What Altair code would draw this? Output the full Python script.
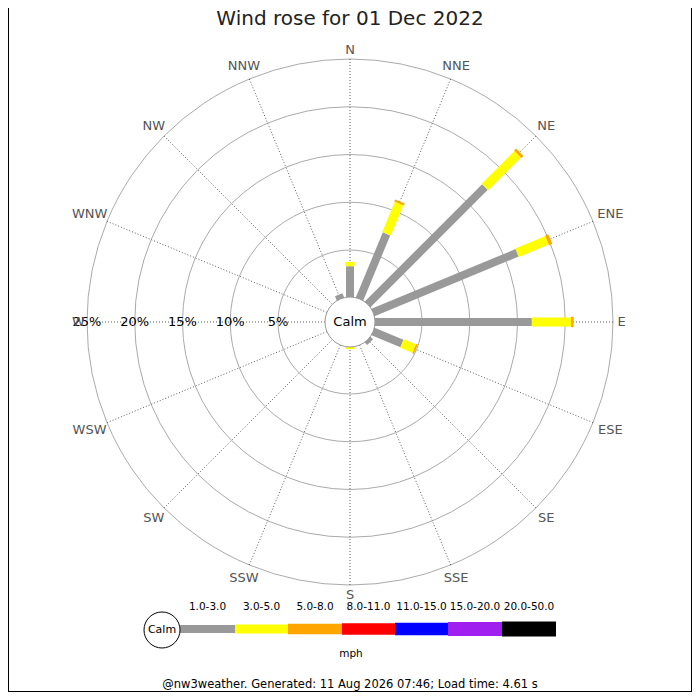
import pandas as pd
import altair as alt

# wind rose data: % of the day per direction and speed class
directions = ["N", "NNE", "NE", "ENE", "E", "ESE", "SE", "SSE",
              "S", "SSW", "SW", "WSW", "W", "WNW", "NW", "NNW"]
speed_bins = ["1.0-3.0", "3.0-5.0", "5.0-8.0", "8.0-11.0",
              "11.0-15.0", "15.0-20.0", "20.0-50.0"]
pct_1_3 = [3.3, 7.45, 17.45, 16.4, 16.5, 3.35, 0.45, 0, 0, 0, 0, 0, 0, 0, 0, 0.55]
pct_3_5 = [0.45, 3.45, 4.85, 3.4, 4.1, 1.4, 0, 0, 0.3, 0, 0, 0, 0, 0, 0, 0]
pct_5_8 = [0, 0.22, 0.3, 0.35, 0.27, 0.16, 0, 0, 0, 0, 0, 0, 0, 0, 0, 0]
pct_8_11 = [0] * 16
pct_11_15 = [0] * 16
pct_15_20 = [0] * 16
pct_20_50 = [0] * 16
ring_pcts = [5, 10, 15, 20, 25]
ring_labels = ["5%", "10%", "15%", "20%", "25%"]

title_text = "Wind rose for 01 Dec 2022"
footer_text = "@nw3weather. Generated: 11 Aug 2026 07:46; Load time: 4.61 s"
unit_text = "mph"

# styling / layout (page pixels)
bin_colors = ["#999999", "#ffff00", "#ffa500", "#ff0000", "#0000ff", "#a020f0", "#000000"]
bin_widths = [8, 15, 20, 24, 26, 28, 28]
legend_edges = [180, 235, 288, 342, 395, 448, 502, 556]
CX, CY = 350, 322
R0, K = 24.25, 9.55   # radius at 0% and px per 1%
FONT = "DejaVu Sans"

xs = alt.Scale(domain=[8, 692], nice=False, zero=False)
ys = alt.Scale(domain=[8, 692], nice=False, zero=False, reverse=True)
X = alt.X("x:Q", scale=xs, axis=None)
Y = alt.Y("y:Q", scale=ys, axis=None)


def rad(field):
    return f"{R0} + {K} * datum.{field}"


def px(r, ang):
    return f"{CX} + ({r}) * sin(datum.{ang} * PI / 180)"


def py(r, ang):
    return f"{CY} - ({r}) * cos(datum.{ang} * PI / 180)"


def label(text, x, y, size, color="#000000", baseline="middle"):
    df = pd.DataFrame({"x": [x], "y": [y], "t": [text]})
    return alt.Chart(df).mark_text(
        font=FONT, fontSize=size, color=color, align="center", baseline=baseline
    ).encode(x=X, y=Y, text="t:N")


# bars
all_bins = [pct_1_3, pct_3_5, pct_5_8, pct_8_11, pct_11_15, pct_15_20, pct_20_50]
rows = []
for i, d in enumerate(directions):
    start = 0.0
    for b, series in enumerate(all_bins):
        v = series[i]
        if v > 0:
            rows.append({"dir": d, "ang": i * 22.5, "bin": speed_bins[b],
                         "p0": start, "p1": start + v})
        start += v
bars_df = pd.DataFrame(rows)

color_enc = alt.Color("bin:N", scale=alt.Scale(domain=speed_bins, range=bin_colors), legend=None)
width_enc = alt.StrokeWidth("bin:O", scale=alt.Scale(domain=speed_bins, range=bin_widths), legend=None)

bars = alt.Chart(bars_df).mark_rule(strokeCap="butt").transform_calculate(
    x=px(rad("p0"), "ang"), y=py(rad("p0"), "ang"),
    x2=px(rad("p1"), "ang"), y2=py(rad("p1"), "ang")
).encode(x=X, y=Y, x2="x2:Q", y2="y2:Q", color=color_enc, strokeWidth=width_enc)

# rings
rings_df = pd.DataFrame({"pct": ring_pcts, "label": ring_labels})
rings = alt.Chart(rings_df).mark_point(
    shape="circle", filled=False, color="#aaaaaa", opacity=1, strokeWidth=1
).transform_calculate(
    x=f"{CX}", y=f"{CY}", s=f"pow(2 * ({rad('pct')}), 2)"
).encode(x=X, y=Y, size=alt.Size("s:Q", scale=None))

ring_text = alt.Chart(rings_df).mark_text(
    font=FONT, fontSize=13, color="#000000", align="center", baseline="middle"
).transform_calculate(
    x=f"{CX} - ({rad('pct')})", y=f"{CY}"
).encode(x=X, y=Y, text="label:N")

# spokes and direction labels
dirs_df = pd.DataFrame({"dir": directions, "ang": [i * 22.5 for i in range(16)]})
spokes = alt.Chart(dirs_df).mark_rule(
    color="#333333", strokeWidth=0.8, strokeDash=[1, 2]
).transform_calculate(
    x=px("25", "ang"), y=py("25", "ang"),
    x2=px(f"{R0} + {K} * 25", "ang"), y2=py(f"{R0} + {K} * 25", "ang")
).encode(x=X, y=Y, x2="x2:Q", y2="y2:Q")

# labels sit just outside the outer ring, pushed out by their own half size
lab_r = ("267 + 4.6 * length(datum.dir) * abs(sin(datum.ang * PI / 180))"
         " + 5.5 * abs(cos(datum.ang * PI / 180))")
dir_text = alt.Chart(dirs_df).mark_text(
    font=FONT, fontSize=13, color="#555555", align="center", baseline="middle"
).transform_calculate(
    x=px(lab_r, "ang"), y=py(lab_r, "ang")
).encode(x=X, y=Y, text="dir:N")

# calm circle in the middle
calm_df = pd.DataFrame({"x": [CX], "y": [CY]})
calm = alt.Chart(calm_df).mark_point(
    shape="circle", filled=True, fill="#ffffff", stroke="#999999",
    strokeWidth=1, opacity=1, size=2500
).encode(x=X, y=Y)
calm_text = label("Calm", CX, CY, 13)

# legend
leg_df = pd.DataFrame({"bin": speed_bins, "x": legend_edges[:-1], "x2": legend_edges[1:]})
leg_bars = alt.Chart(leg_df).mark_rule(strokeCap="butt").transform_calculate(
    y="629"
).encode(x=X, y=Y, x2="x2:Q", color=color_enc, strokeWidth=width_enc)
leg_text = alt.Chart(leg_df).mark_text(
    font=FONT, fontSize=10.5, color="#000000", align="center", baseline="middle"
).transform_calculate(
    xm="(datum.x + datum.x2) / 2", y="607"
).encode(x=alt.X("xm:Q", scale=xs, axis=None), y=Y, text="bin:N")
leg_calm_df = pd.DataFrame({"x": [162], "y": [630]})
leg_calm = alt.Chart(leg_calm_df).mark_point(
    shape="circle", filled=True, fill="#ffffff", stroke="#000000",
    strokeWidth=1, opacity=1, size=1296
).encode(x=X, y=Y)
leg_calm_text = label("Calm", 162, 630, 11)

# title, unit, footer
title = label(title_text, 350, 25, 20, "#222222", baseline="alphabetic")
unit = label(unit_text, 351, 654, 10.5)
footer = label(footer_text, 350, 684.5, 11.5)

# frame on the left, right and bottom edge
frame_df = pd.DataFrame({"x": [8.5, 691.5, 8], "x2": [8.5, 691.5, 692],
                         "y": [8, 8, 691.5], "y2": [692, 692, 691.5]})
frame = alt.Chart(frame_df).mark_rule(color="#000000", strokeWidth=1).encode(
    x=X, y=Y, x2="x2:Q", y2="y2:Q"
)

chart = alt.layer(
    rings, spokes, bars, calm, calm_text, ring_text, dir_text,
    leg_bars, leg_text, leg_calm, leg_calm_text, title, unit, footer, frame
).properties(
    width=684, height=684, padding=0, autosize=alt.AutoSizeParams(type="none"),
    background="#ffffff"
).configure_view(stroke=None)

chart.save("out.html", embed_options={"renderer": "svg", "actions": False})
